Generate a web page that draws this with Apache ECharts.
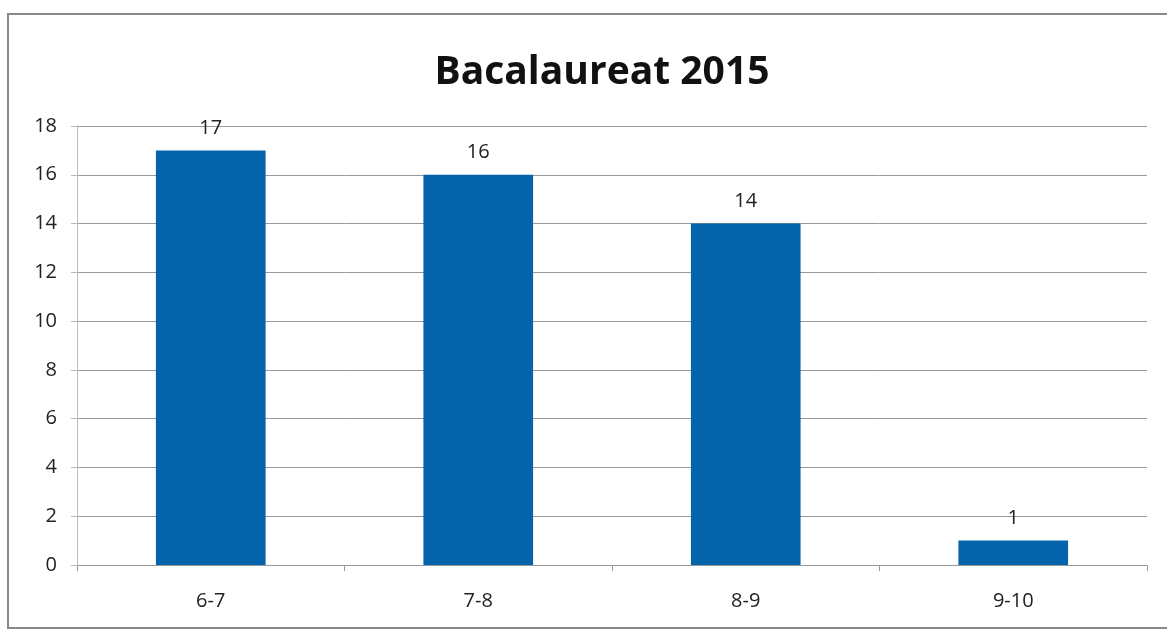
<!DOCTYPE html>
<html>
<head>
<meta charset="utf-8">
<script src="https://cdn.jsdelivr.net/npm/echarts@6/dist/echarts.min.js"></script>
<style>
  html, body { margin: 0; padding: 0; background: #fff; }
  #main { width: 1167px; height: 633px; }
</style>
</head>
<body>
<div id="main"></div>
<script>
  var categories = ['6-7', '7-8', '8-9', '9-10'];
  var values = [17, 16, 14, 1];
  var yTicks = [0, 2, 4, 6, 8, 10, 12, 14, 16, 18];

  var myChart = echarts.init(document.getElementById('main'));
  var option = {
    backgroundColor: '#ffffff',
    animation: false,
    title: {
      text: 'Bacalaureat 2015',
      left: 597,
      textAlign: 'center',
      top: 48,
      textStyle: { fontFamily: 'Open Sans', fontWeight: 'bold', fontSize: 39, color: '#111' }
    },
    graphic: [{
      type: 'rect',
      shape: { x: 8, y: 14, width: 1200, height: 614 },
      style: { fill: 'none', stroke: '#888', lineWidth: 2 }
    }],
    grid: { left: 77, right: 20, top: 126, bottom: 68 },
    xAxis: {
      type: 'category',
      data: categories,
      axisLine: { lineStyle: { color: '#999' } },
      axisTick: { show: true, alignWithLabel: false, length: 6, lineStyle: { color: '#999' } },
      axisLabel: { fontFamily: 'Open Sans', fontSize: 20, color: '#222', margin: 26 }
    },
    yAxis: {
      type: 'value',
      min: yTicks[0],
      max: yTicks[yTicks.length - 1],
      interval: 2,
      axisLine: { show: true, lineStyle: { color: '#bbb' } },
      axisTick: { show: true, length: 6, lineStyle: { color: '#bbb' } },
      axisLabel: { fontFamily: 'Open Sans', fontSize: 20, color: '#222', margin: 20 },
      splitLine: { lineStyle: { color: '#999' } }
    },
    series: [{
      type: 'bar',
      data: values,
      barWidth: '41%',
      itemStyle: { color: '#0463ab' },
      label: {
        show: true,
        position: 'top',
        distance: 12,
        fontFamily: 'Open Sans',
        fontSize: 20,
        color: '#222'
      }
    }]
  };
  myChart.setOption(option);
</script>
</body>
</html>
